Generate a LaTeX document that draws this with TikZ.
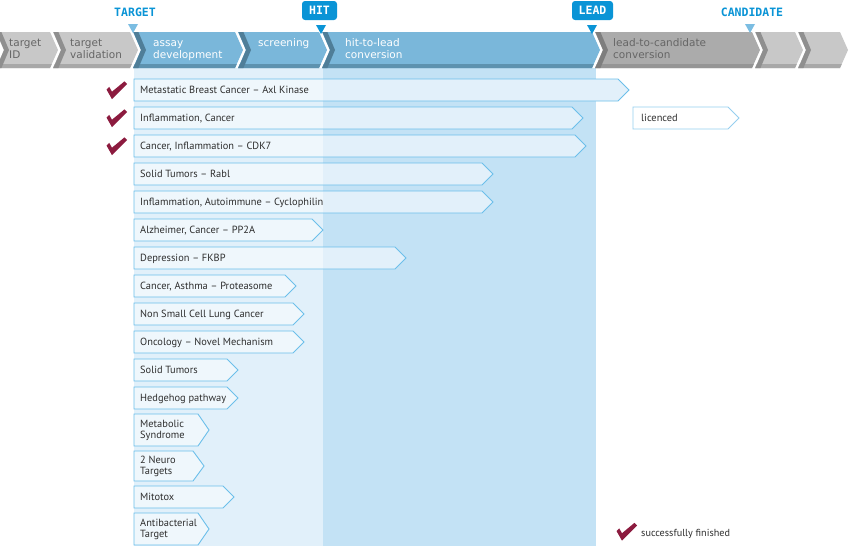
\documentclass[tikz,border=0pt]{standalone}
\usepackage{fontspec}
\setmainfont{PT Sans}
\newfontfamily\monof{DejaVu Sans Mono}
\newfontfamily\hdrf{DejaVu Sans}
\definecolor{segg}{HTML}{C8C8C8}
\definecolor{seggn}{HTML}{8F8F8F}
\definecolor{seggb}{HTML}{A8A8A8}
\definecolor{segd}{HTML}{ABABAB}
\definecolor{segdn}{HTML}{7E7E7E}
\definecolor{segdb}{HTML}{959595}
\definecolor{segb}{HTML}{7AB7DA}
\definecolor{segbn}{HTML}{4F7E98}
\definecolor{segbb}{HTML}{5D92AF}
\definecolor{labblue}{HTML}{0A94D6}
\definecolor{tribl}{HTML}{7BBDE2}
\definecolor{colA}{HTML}{E1F0FA}
\definecolor{colB}{HTML}{C3E2F5}
\definecolor{barin}{HTML}{EFF7FC}
\definecolor{barout}{HTML}{E2F0FA}
\definecolor{barline}{HTML}{6CBFEA}
\definecolor{licline}{HTML}{96CFEF}
\definecolor{chkred}{HTML}{8C1B3F}
\definecolor{txtgray}{HTML}{666666}
\definecolor{txtdark}{HTML}{2E2E2E}
\newcommand\hseg[5]{%
  \path[fill=#3, path picture={
     \fill[#5] (#1-2,64) rectangle (#2+10,69);
     \fill[#4] (#1,31) -- (#1+5,31) -- (#1+13,50) -- (#1+5,69) -- (#1,69) -- (#1+8,50) -- cycle;}]
    (#1,32) -- (#2,32) -- (#2+8,50) -- (#2,68) -- (#1,68) -- (#1+8,50) -- cycle;}
\newcommand\bbar[5]{%
  \path[barshape] (134,#2) -- (#4-11,#2) -- (#4,{(#2+#3)/2}) -- (#4-11,#3) -- (134,#3) -- cycle;
  \node[bartxt] (#1) at (140,{(#2+#3)/2}) {\strut #5\strut};}
\begin{document}
\begin{tikzpicture}[x=1pt,y=-1pt,
  htxt/.style={font=\hdrf\fontsize{10.5}{11.5}\selectfont, inner sep=0, anchor=north west, align=left},
  labtxt/.style={font=\monof\bfseries\fontsize{11.5}{12}\selectfont, inner sep=0},
  labbox/.style={labtxt, fill=labblue, text=white, rounded corners=3, minimum height=19},
  barshape/.style={fill=barout, draw=barline, line width=0.9, path picture={\fill[barin] (100,0) rectangle (323,600);}},
  licshape/.style={fill=white, draw=licline, line width=0.9},
  bartxt/.style={font=\fontsize{10.4}{11}\selectfont, text=txtdark, anchor=west, inner sep=0, align=left, yshift=-1pt},
  chk/.pic={\fill[chkred] (-10,-1) -- (-7.3,-3.7) -- (-4.5,1.2) -- (8,-9.2) -- (10.6,-6.4) -- (-4.5,8.7) -- cycle;}
]
\useasboundingbox (0,0) rectangle (850,546);
\fill[white] (0,0) rectangle (850,546);
% columns
\fill[colA] (134,68) rectangle (323,546);
\fill[colB] (323,68) rectangle (596,546);
% header segments
\hseg{-4}{50}{segg}{seggn}{seggb}
\hseg{53}{130}{segg}{seggn}{seggb}
\hseg{133}{235}{segb}{segbn}{segbb}
\hseg{238}{319}{segb}{segbn}{segbb}
\hseg{322}{592}{segb}{segbn}{segbb}
\hseg{595}{752}{segd}{segdn}{segdb}
\hseg{755}{795}{segg}{seggn}{seggb}
\hseg{798}{840}{segg}{seggn}{seggb}
% header texts
\node[htxt, text=txtgray] (tid) at (9,38.45) {\strut target\\ID};
\node[htxt, text=txtgray] (tval) at (70,38.45) {\strut target\\validation};
\node[htxt, text=white] (assay) at (153,38.45) {\strut assay\\development};
\node[htxt, text=white] (scr) at (258,38.45) {\strut screening};
\node[htxt, text=white] (h2l) at (345,38.45) {\strut hit-to-lead\\conversion};
\node[htxt, text=txtgray] (l2c) at (613,38.45) {\strut lead-to-candidate\\conversion};
% milestone labels
\node[labtxt, text=labblue] (target) at (135,12) {TARGET};
\node[labbox, minimum width=35] (hit) at (319.5,10.5) {HIT};
\node[labbox, minimum width=41] (lead) at (592.5,10.5) {LEAD};
\node[labtxt, text=labblue] (cand) at (752,12) {CANDIDATE};
\fill[tribl] (128,24) -- (138,24) -- (133,33) -- cycle;
\fill[labblue] (316,25) -- (326,25) -- (321,34) -- cycle;
\fill[labblue] (587,25) -- (597,25) -- (592,34) -- cycle;
\fill[tribl] (745,24) -- (755,24) -- (750,33) -- cycle;
% bars
\bbar{b1}{79}{101}{629}{Metastatic Breast Cancer -- Axl Kinase}
\bbar{b2}{107}{129}{583}{Inflammation, Cancer}
\bbar{b3}{135}{157}{586}{Cancer, Inflammation -- CDK7}
\bbar{b4}{163}{185}{493}{Solid Tumors -- Rabl}
\bbar{b5}{191}{213}{493}{Inflammation, Autoimmune -- Cyclophilin}
\bbar{b6}{219}{241}{323}{Alzheimer, Cancer -- PP2A}
\bbar{b7}{247}{269}{406}{Depression -- FKBP}
\bbar{b8}{275}{297}{296}{Cancer, Asthma -- Proteasome}
\bbar{b9}{303}{325}{304}{Non Small Cell Lung Cancer}
\bbar{b10}{331}{353}{304}{Oncology -- Novel Mechanism}
\bbar{b11}{359}{381}{238}{Solid Tumors}
\bbar{b12}{387}{409}{238}{Hedgehog pathway}
\bbar{b13}{414}{446}{209}{Metabolic\\Syndrome}
\bbar{b14}{451}{481}{204}{2 Neuro\\Targets}
\bbar{b15}{486}{508}{234}{Mitotox}
\bbar{b16}{513}{545}{209}{Antibacterial\\Target}
% licenced
\path[licshape] (633,107) -- (728,107) -- (739,118) -- (728,129) -- (633,129) -- cycle;
\node[bartxt] (lic) at (641,118) {\strut licenced\strut};
% checks
\pic at (116.5,90.5) {chk};
\pic at (116.5,118.5) {chk};
\pic at (116.5,146.5) {chk};
\pic at (626.5,532) {chk};
\node[bartxt, font=\fontsize{10.2}{11}\selectfont] (legend) at (641,533.5) {\strut successfully finished\strut};
\end{tikzpicture}
\end{document}
